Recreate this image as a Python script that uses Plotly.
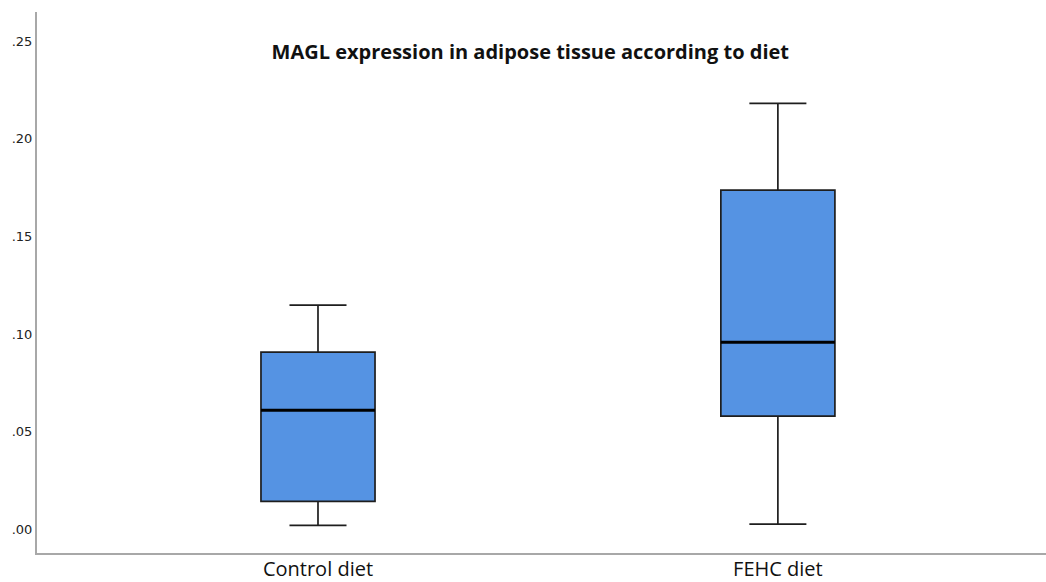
import plotly.graph_objects as go

# Summary statistics of MAGL expression per diet group
groups = ["Control diet", "FEHC diet"]
lower_whisker = [0.0020, 0.0026]
q1 = [0.0143, 0.0579]
median = [0.0610, 0.0958]
q3 = [0.0907, 0.1737]
upper_whisker = [0.1148, 0.2182]

y_ticks = [0.00, 0.05, 0.10, 0.15, 0.20, 0.25]
y_tick_text = [".00", ".05", ".10", ".15", ".20", ".25"]

BOX_WIDTH = 0.248
positions = list(range(len(groups)))

fig = go.Figure()

fig.add_trace(go.Box(
    x=positions,
    q1=q1,
    median=median,
    q3=q3,
    lowerfence=lower_whisker,
    upperfence=upper_whisker,
    width=BOX_WIDTH,
    whiskerwidth=0.5,
    fillcolor="#5593E3",
    line=dict(color="#1e1e1e", width=1.7),
    boxpoints=False,
    hoverinfo="skip",
    showlegend=False,
))

# Heavier median bars drawn over each box
mx, my = [], []
for p, m in zip(positions, median):
    mx += [p - BOX_WIDTH / 2, p + BOX_WIDTH / 2, None]
    my += [m, m, None]
fig.add_trace(go.Scatter(
    x=mx, y=my, mode="lines",
    line=dict(color="#000000", width=3),
    hoverinfo="skip", showlegend=False,
))

fig.update_layout(
    width=1046,
    height=582,
    margin=dict(l=37, r=0, t=12, b=29),
    paper_bgcolor="white",
    plot_bgcolor="white",
    title=dict(
        text="<b>MAGL expression in adipose tissue according to diet</b>",
        x=0.507, xanchor="center",
        y=1 - 52 / 582, yanchor="middle",
        font=dict(family="Open Sans", size=20, color="#111111"),
    ),
    xaxis=dict(
        range=[-0.611, 1.583],
        tickvals=positions,
        ticktext=groups,
        showgrid=False,
        zeroline=False,
        showline=True,
        linecolor="#A8A8A8",
        linewidth=2,
        ticks="",
        automargin=False,
        ticklabelstandoff=-3,
        tickfont=dict(family="Open Sans", size=20, color="#111111"),
    ),
    yaxis=dict(
        range=[-0.0122, 0.2650],
        tickvals=y_ticks,
        ticktext=y_tick_text,
        showgrid=False,
        zeroline=False,
        showline=True,
        linecolor="#A8A8A8",
        linewidth=2,
        ticks="",
        automargin=False,
        tickfont=dict(family="DejaVu Sans", size=13, color="#222222"),
    ),
)

fig.write_html("out.html")
